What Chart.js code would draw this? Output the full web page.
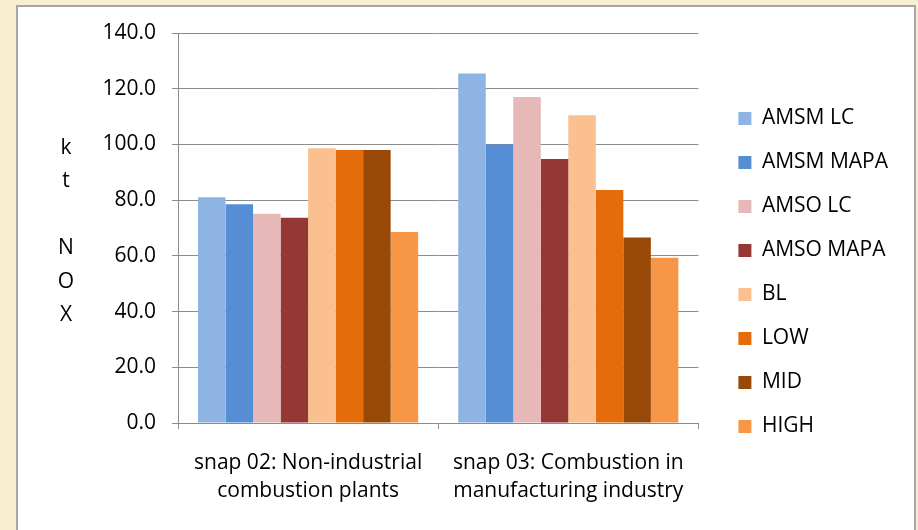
<!DOCTYPE html>
<html lang="en">
<head>
    <meta charset="UTF-8">
    <title>NOx by snap sector</title>
    <script src="https://cdn.jsdelivr.net/npm/chart.js"></script>
    <style>
        body { margin: 0; background: #F8EED2; }
        #frame {
            position: absolute;
            left: 16px; top: 5px;
            width: 896px; height: 540px;
            border: 2px solid #a6a6a6;
            background: #fff;
        }
        #frame canvas { position: absolute; left: 0; top: 0; }
    </style>
</head>
<body>
    <div id="frame">
        <canvas id="noxChart" width="896" height="523"></canvas>
    </div>

    <script>
        // Categories (two-line labels) and series values in kt NOx
        const categories = [
            ['snap 02: Non-industrial', 'combustion plants'],
            ['snap 03: Combustion in', 'manufacturing industry']
        ];
        const seriesNames = ['AMSM LC', 'AMSM MAPA', 'AMSO LC', 'AMSO MAPA', 'BL', 'LOW', 'MID', 'HIGH'];
        const amsmLC   = [81.0, 125.5];
        const amsmMAPA = [78.5, 100.0];
        const amsoLC   = [75.1, 117.0];
        const amsoMAPA = [73.7, 94.8];
        const bl       = [98.6, 110.5];
        const low      = [98.0, 83.6];
        const mid      = [98.0, 66.6];
        const high     = [68.6, 59.3];
        const yTicks = [0, 20, 40, 60, 80, 100, 120, 140];
        const yTitle = 'kt NOX';

        const seriesValues = [amsmLC, amsmMAPA, amsoLC, amsoMAPA, bl, low, mid, high];
        const seriesColors = ['#8EB4E3', '#558ED5', '#E6B9B8', '#953735', '#FAC090', '#E46C0A', '#984807', '#F79646'];

        const fontName = 'Open Sans';
        const baseFont = { family: fontName, size: 21 };
        const gridGray = '#8c8c8c';

        // Draws the axis title one letter per line, as in the original
        const verticalTitle = {
            id: 'verticalTitle',
            afterDraw(chart) {
                const c = chart.ctx;
                c.save();
                c.font = '21px "' + fontName + '"';
                c.fillStyle = '#000';
                c.textAlign = 'center';
                c.textBaseline = 'middle';
                yTitle.split('').forEach((ch, i) => {
                    c.fillText(ch, 48, 141 + i * 33.4);
                });
                c.restore();
            }
        };

        function buildChart() {
            const ctx = document.getElementById('noxChart').getContext('2d');
            new Chart(ctx, {
                type: 'bar',
                data: {
                    labels: categories,
                    datasets: seriesNames.map((name, i) => ({
                        label: name,
                        data: seriesValues[i],
                        backgroundColor: seriesColors[i],
                        borderWidth: 0,
                        categoryPercentage: 0.846,
                        barPercentage: 1.0
                    }))
                },
                options: {
                    responsive: false,
                    animation: false,
                    layout: { padding: { top: 26, right: 16, bottom: 18, left: 0 } },
                    plugins: {
                        legend: {
                            position: 'right',
                            labels: {
                                boxWidth: 13,
                                boxHeight: 13,
                                padding: 23,
                                color: '#000',
                                font: baseFont
                            }
                        },
                        tooltip: { enabled: false }
                    },
                    scales: {
                        x: {
                            grid: { drawOnChartArea: false, color: gridGray, tickLength: 6 },
                            border: { color: gridGray },
                            ticks: { color: '#000', font: { family: fontName, size: 21, lineHeight: 1.33 }, padding: 20, maxRotation: 0 },
                            afterFit: s => { s.height = 89; }
                        },
                        y: {
                            min: 0,
                            max: 140,
                            afterBuildTicks: s => { s.ticks = yTicks.map(v => ({ value: v })); },
                            grid: { color: gridGray, tickLength: 6 },
                            border: { color: gridGray },
                            ticks: {
                                color: '#000',
                                font: baseFont,
                                padding: 16,
                                callback: v => v.toFixed(1)
                            },
                            afterFit: s => {
                                s.width = 160;
                                s.paddingTop = 0;
                                s.paddingBottom = 0;
                            }
                        },
                        // empty spacer between plot and legend
                        gap: {
                            type: 'linear',
                            position: 'right',
                            display: false,
                            afterFit: s => { s.width = 17; }
                        }
                    }
                },
                plugins: [verticalTitle]
            });
        }

        document.fonts.load('21px "' + fontName + '"').then(buildChart, buildChart);
    </script>
</body>
</html>
